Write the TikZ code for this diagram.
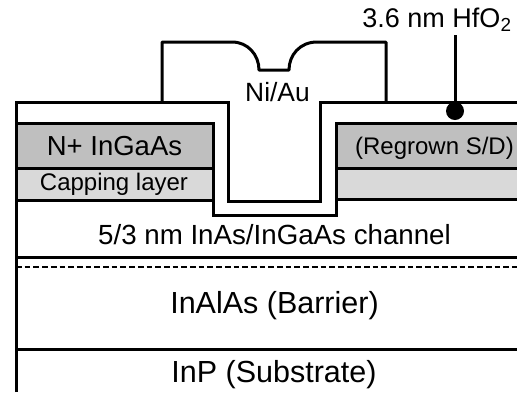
\documentclass[tikz,border=0pt]{standalone}
\usepackage{fontspec}
\setmainfont{Liberation Sans}
\begin{document}
\begin{tikzpicture}[x=1pt,y=-1pt]
    \tikzset{
        edge/.style={draw=black, line width=3pt},
        capfill/.style={edge, fill=black!25},
        layerfill/.style={edge, fill=black!15},
        lbl/.style={inner sep=0pt, outer sep=0pt, text=black, anchor=base}
    }
    \useasboundingbox (0,0) rectangle (517,392);

    % Left and right stacks
    \draw[capfill]   (16,123) rectangle (213,168);
    \draw[layerfill] (16,168) rectangle (213,200);
    \draw[capfill]   (336,123) rectangle (530,168);
    \draw[layerfill] (336,168) rectangle (530,199);

    % Oxide, outer and inner line
    \draw[edge] (16,392) -- (16,102) -- (228,102) -- (228,201) -- (320,201) -- (320,102) -- (530,102);
    \draw[edge] (213,200) -- (213,215) -- (336,215) -- (336,199);

    % Gate
    \draw[edge, line join=round] (162,102) -- (162,42) -- (232,42)
        .. controls (248,42) and (259,55) .. (259,70) -- (289,70)
        .. controls (289,55) and (300,42) .. (317,42) -- (386,42) -- (386,102);

    % Lower layers
    \draw[edge] (16,257) -- (530,257);
    \draw[edge, line width=2.8pt, dash pattern=on 5.7pt off 3pt] (16,267) -- (530,267);
    \draw[edge] (16,349) -- (530,349);

    % Labels
    \node[lbl, font=\fontsize{27.5}{27.5}\selectfont] (source) at (114.5,155) {N+ InGaAs};
    \node[lbl, font=\fontsize{24}{24}\selectfont] (capping) at (114,190) {Capping layer};
    \node[lbl, font=\fontsize{24}{24}\selectfont] (regrown) at (434.5,154) {(Regrown S/D)};
    \node[lbl, font=\fontsize{26.4}{26.4}\selectfont] (gate) at (277.5,101.5) {Ni/Au};
    \node[lbl, font=\fontsize{27.7}{27.7}\selectfont] (channel) at (274.5,244) {5/3 nm InAs/InGaAs channel};
    \node[lbl, font=\fontsize{30.5}{30.5}\selectfont] (barrier) at (274.5,313) {InAlAs (Barrier)};
    \node[lbl, font=\fontsize{30.5}{30.5}\selectfont] (substrate) at (274,382) {InP (Substrate)};
    \node[lbl, font=\fontsize{27}{27}\selectfont] (oxide) at (437,27) {3.6 nm HfO\textsubscript{2}};

    % Marker
    \node[circle, fill=black, minimum size=18pt, inner sep=0pt] (marker) at (455,111) {};
    \coordinate (stem) at (455,35);
    \draw[edge] (stem) -- (marker);
\end{tikzpicture}
\end{document}
